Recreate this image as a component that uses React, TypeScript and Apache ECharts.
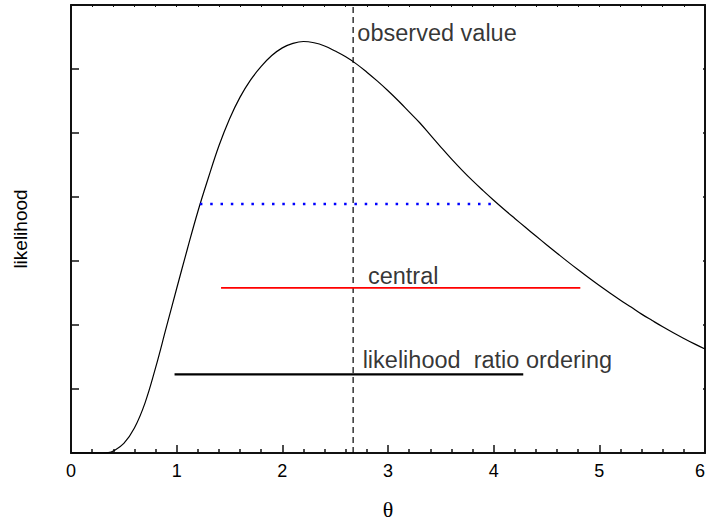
import React, { useEffect, useRef } from "react";
import * as echarts from "echarts";

// Likelihood curve (theta, likelihood)
const thetaValues = [
  0, 0.1, 0.2, 0.3, 0.35, 0.4, 0.5, 0.6, 0.7, 0.8, 0.9, 1.0, 1.1, 1.2, 1.3, 1.4, 1.5, 1.6, 1.7, 1.8, 1.9,
  2.0, 2.1, 2.2, 2.3, 2.4, 2.5, 2.6, 2.7, 2.8, 2.9, 3.0, 3.1, 3.2, 3.3, 3.4, 3.5, 3.6, 3.7, 3.8, 3.9,
  4.0, 4.1, 4.2, 4.3, 4.4, 4.5, 4.6, 4.7, 4.8, 4.9, 5.0, 5.1, 5.2, 5.3, 5.4, 5.5, 5.6, 5.7, 5.8, 5.9, 6.0,
];
const likelihoodValues = [
  0, 0, 0, 0, 0.005, 0.03, 0.15, 0.39, 0.78, 1.33, 1.95, 2.57, 3.18, 3.77, 4.3, 4.8, 5.22, 5.56, 5.83, 6.04, 6.21,
  6.33, 6.4, 6.43, 6.41, 6.36, 6.28, 6.19, 6.08, 5.95, 5.81, 5.66, 5.5, 5.33, 5.16, 4.97, 4.78, 4.595, 4.42, 4.255, 4.1,
  3.95, 3.805, 3.665, 3.527, 3.39, 3.255, 3.122, 2.99, 2.862, 2.737, 2.616, 2.5, 2.388, 2.28, 2.17, 2.07, 1.972, 1.879, 1.79, 1.705, 1.625,
];

const observedTheta = 2.67;
const observedLine = [
  [observedTheta, 0],
  [observedTheta, 7],
];
const dottedInterval = [
  [1.22, 3.89],
  [4.01, 3.89],
];
const centralInterval = [
  [1.42, 2.58],
  [4.82, 2.58],
];
const ratioInterval = [
  [0.98, 1.23],
  [4.28, 1.23],
];

const annotationTexts = ["observed value", "central", "likelihood  ratio ordering"];
const annotationAnchors = [
  [2.71, 6.57],
  [2.81, 2.77],
  [2.76, 1.46],
];

const xTicks = [0, 1, 2, 3, 4, 5, 6];

export default function App() {
  const ref = useRef<HTMLDivElement>(null);
  useEffect(() => {
    if (!ref.current) return;
    const chart = echarts.init(ref.current, null, { renderer: "svg" });
    const curve = thetaValues.map((t, i) => [t, likelihoodValues[i]]);
    const font = "Arial, 'Liberation Sans', Helvetica, sans-serif";
    const axisColor = "#111";
    chart.setOption({
      animation: false,
      backgroundColor: "#fff",
      grid: { left: 71, right: 2, top: 5, bottom: 68, containLabel: false, outerBoundsMode: "none" },
      xAxis: [
        {
          type: "value",
          min: xTicks[0],
          max: xTicks[xTicks.length - 1],
          interval: 1,
          position: "bottom",
          name: "θ",
          nameLocation: "middle",
          nameGap: 45,
          nameTextStyle: { fontFamily: "'Liberation Serif', 'DejaVu Serif', serif", fontSize: 22, color: "#000" },
          axisLine: { show: true, onZero: false, lineStyle: { color: axisColor, width: 2 } },
          axisTick: { show: true, inside: true, length: 8, lineStyle: { color: axisColor, width: 1.5 } },
          minorTick: { show: true, splitNumber: 5, length: 4, lineStyle: { color: axisColor, width: 1.5 } },
          axisLabel: {
            show: true,
            margin: 9,
            fontFamily: font,
            fontSize: 18,
            color: "#000",
            alignMaxLabel: "right",
          },
          splitLine: { show: false },
          minorSplitLine: { show: false },
        },
        {
          type: "value",
          min: 0,
          max: 6,
          interval: 1,
          position: "top",
          axisLine: { show: true, onZero: false, lineStyle: { color: axisColor, width: 2 } },
          axisTick: { show: true, inside: true, length: 2, lineStyle: { color: axisColor, width: 1 } },
          minorTick: { show: true, splitNumber: 5, length: 2, lineStyle: { color: axisColor, width: 1 } },
          axisLabel: { show: false },
          splitLine: { show: false },
        },
      ],
      yAxis: [
        {
          type: "value",
          min: 0,
          max: 7,
          interval: 1,
          position: "left",
          name: "likelihood",
          nameLocation: "middle",
          nameGap: 41,
          nameTextStyle: { fontFamily: font, fontSize: 19, color: "#000" },
          axisLine: { show: true, onZero: false, lineStyle: { color: axisColor, width: 2 } },
          axisTick: { show: true, inside: true, length: 8, lineStyle: { color: axisColor, width: 1.5 } },
          axisLabel: { show: false },
          splitLine: { show: false },
        },
        {
          type: "value",
          min: 0,
          max: 7,
          interval: 1,
          position: "right",
          axisLine: { show: true, onZero: false, lineStyle: { color: axisColor, width: 2 } },
          axisTick: { show: true, inside: true, length: 2, lineStyle: { color: axisColor, width: 1.5 } },
          axisLabel: { show: false },
          splitLine: { show: false },
        },
      ],
      series: [
        {
          type: "line",
          data: curve,
          showSymbol: false,
          smooth: 0.4,
          lineStyle: { color: "#000", width: 1.2 },
          silent: true,
        },
        {
          type: "line",
          data: observedLine,
          showSymbol: false,
          lineStyle: { color: "#000", width: 1.2, type: [6, 4] },
          silent: true,
        },
        {
          type: "line",
          data: dottedInterval,
          showSymbol: false,
          lineStyle: { color: "#0000ff", width: 2.5, type: [2.5, 7.8] },
          silent: true,
        },
        {
          type: "line",
          data: centralInterval,
          showSymbol: false,
          lineStyle: { color: "#ff0000", width: 1.6 },
          silent: true,
        },
        {
          type: "line",
          data: ratioInterval,
          showSymbol: false,
          lineStyle: { color: "#000", width: 2.2 },
          silent: true,
        },
        {
          type: "scatter",
          symbolSize: 0,
          silent: true,
          data: annotationAnchors.map((p, i) => ({ value: p, name: annotationTexts[i] })),
          label: {
            show: true,
            position: [0, 0],
            align: "left",
            verticalAlign: "middle",
            formatter: (p: any) => p.name,
            fontFamily: font,
            fontSize: 23.5,
            color: "#000",
          },
        },
      ],
    });
    return () => chart.dispose();
  }, []);
  return (
    <div
      ref={ref}
      style={{ position: "fixed", left: 0, top: 0, width: 707, height: 521, background: "#fff" }}
    />
  );
}
